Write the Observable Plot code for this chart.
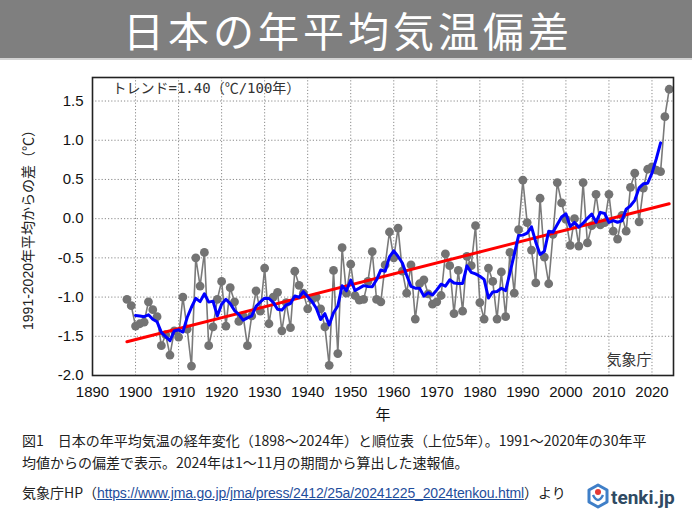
<!DOCTYPE html>
<html><head><meta charset="utf-8">
<script src="https://cdn.jsdelivr.net/npm/d3@7"></script>
<script src="https://cdn.jsdelivr.net/npm/@observablehq/plot@0.6"></script>
<style>
body{margin:0;width:692px;height:519px;position:relative;background:#fff;overflow:hidden;font-family:"Noto Sans CJK JP",sans-serif}
#banner{position:absolute;left:0;top:0;width:692px;height:58px;background:#7f7f7f;border-bottom:2px solid #d3d3d3;display:flex;align-items:center;justify-content:center}
#title{color:#fff;font-size:41px;letter-spacing:4px;line-height:1;white-space:nowrap;padding-left:4px}
#chart{position:absolute;left:0;top:60px}
.cap{position:absolute;left:22px;font-size:14px;color:#222;white-space:nowrap;line-height:18px}
.url{color:#1f4e9c;text-decoration:underline;font-family:"Liberation Sans",Arial,sans-serif;font-size:14px;letter-spacing:-0.15px}
#logo{position:absolute;left:586px;top:483px}
</style></head>
<body>
<div id="banner"><span id="title"></span></div>
<div id="chart"></div>
<div class="cap" id="cap1" style="top:431px"></div>
<div class="cap" id="cap2" style="top:453px"></div>
<div class="cap" id="cap3" style="top:483px"></div>
<svg id="logo" width="90" height="28" viewBox="0 0 90 28">
  <path d="M12 2 L21 7 L21 19 L12 24 L3 19 L3 7 Z" fill="#fff" stroke="#3f7fc8" stroke-width="3" stroke-linejoin="round"/>
  <path d="M7 12 Q12 22 17 12" fill="none" stroke="#3f7fc8" stroke-width="2.5"/>
  <circle cx="12" cy="9" r="3" fill="#e53935"/>
  <text x="25" y="21" font-family="Roboto, 'Liberation Sans', sans-serif" font-weight="bold" font-size="19" fill="#2f4a63">tenki.jp</text>
</svg>
<script>
const titleText = "日本の年平均気温偏差";
const caption1 = "図1　日本の年平均気温の経年変化（1898～2024年）と順位表（上位5年）。1991～2020年の30年平";
const caption2 = "均値からの偏差で表示。2024年は1～11月の期間から算出した速報値。";
const sourcePrefix = "気象庁HP（";
const sourceUrl = "https://www.jma.go.jp/jma/press/2412/25a/20241225_2024tenkou.html";
const sourceSuffix = "）より";
const trendLabel = "トレンド=1.40（℃/100年）";
const agencyLabel = "気象庁";
const yLabel = "1991-2020年平均からの差（℃）";
const xLabel = "年";

const startYear = 1898;
const anomalies = [
  -1.03, -1.11,                                                  // 1898-1899
  -1.37, -1.34, -1.32, -1.06, -1.16, -1.25, -1.62, -1.48, -1.74, -1.43, // 1900s
  -1.51, -1.00, -1.41, -1.88, -0.50, -0.86, -0.43, -1.62, -1.38, -1.03, // 1910s
  -0.80, -1.37, -0.88, -1.06, -1.31, -1.24, -1.62, -1.24, -0.92, -1.18, // 1920s
  -0.63, -1.34, -1.00, -0.94, -1.43, -1.07, -1.39, -0.67, -0.85, -0.95, // 1930s
  -1.15, -1.03, -1.00, -1.15, -1.38, -1.87, -0.66, -1.72, -0.37, -0.95, // 1940s
  -0.58, -0.98, -1.04, -1.03, -0.80, -0.42, -1.03, -1.06, -0.59, -0.17, // 1950s
  -0.50, -0.12, -0.67, -0.95, -0.59, -1.28, -0.83, -0.78, -0.96, -1.09, // 1960s
  -1.06, -0.98, -0.45, -0.60, -1.21, -0.66, -1.18, -0.48, -0.60, -0.09, // 1970s
  -1.07, -1.28, -0.63, -0.80, -1.28, -0.68, -1.25, -0.43, -0.95, -0.14, // 1980s
   0.49, -0.05, -0.40, -0.82,  0.26, -0.49, -0.83, -0.20,  0.46,  0.20, // 1990s
  -0.01, -0.34,  0.00, -0.35,  0.46, -0.31, -0.09,  0.31, -0.08, -0.05, // 2000s
   0.31, -0.16, -0.26,  0.04, -0.16,  0.40,  0.58, -0.04,  0.39,  0.63, // 2010s
   0.66,  0.62,  0.60,  1.30,  1.65                                    // 2020-2024
];
const trendYears = [1898, 2024];
const trendValues = [-1.57, 0.19];
const xTicks = [1890, 1900, 1910, 1920, 1930, 1940, 1950, 1960, 1970, 1980, 1990, 2000, 2010, 2020];
const yTicks = [-2.0, -1.5, -1.0, -0.5, 0.0, 0.5, 1.0, 1.5];
const xDomain = [1890, 2025];
const yDomain = [-2.0, 1.8];

document.getElementById("title").textContent = titleText;
document.getElementById("cap1").textContent = caption1;
document.getElementById("cap2").textContent = caption2;
const c3 = document.getElementById("cap3");
c3.append(sourcePrefix);
const u = document.createElement("span"); u.className = "url"; u.textContent = sourceUrl; c3.append(u);
c3.append(sourceSuffix);

const data = anomalies.map((v, i) => ({year: startYear + i, value: v}));
const trend = trendYears.map((y, i) => ({year: y, value: trendValues[i]}));

const latin = "'Liberation Sans', Arial, 'Noto Sans CJK JP', sans-serif";
const grid = {stroke: "#8a8a8a", strokeOpacity: 1, strokeWidth: 1, strokeDasharray: "1.2,2"};

const chart = Plot.plot({
  width: 692, height: 360,
  marginLeft: 92, marginRight: 19, marginTop: 17, marginBottom: 45,
  style: {fontFamily: latin, fontSize: "15px", color: "#111", background: "transparent", overflow: "visible"},
  x: {domain: xDomain},
  y: {domain: yDomain},
  marks: [
    Plot.gridX(xTicks.filter(d => d > xDomain[0]), grid),
    Plot.gridY(yTicks.filter(d => d > yDomain[0]), grid),
    Plot.axisX(xTicks, {tickSize: 0, tickPadding: 11, tickFormat: d => String(d), label: null, fontSize: 15}),
    Plot.axisY(yTicks, {tickSize: 0, tickPadding: 9, tickFormat: d => d.toFixed(1), label: null, fontSize: 15}),
    Plot.text([xLabel], {frameAnchor: "bottom", dy: 44, lineAnchor: "bottom", fontSize: 15, fontFamily: "'Noto Sans CJK JP', sans-serif", fill: "#111"}),
    Plot.text([yLabel], {frameAnchor: "left", dx: -64, rotate: -90, textAnchor: "middle", lineAnchor: "middle", fontSize: 14, fontFamily: latin, fill: "#222"}),
    Plot.line(data, {x: "year", y: "value", stroke: "#7a7a7a", strokeWidth: 1.6}),
    Plot.dot(data, {x: "year", y: "value", r: 4.4, fill: "#737373", stroke: "none"}),
    Plot.line(trend, {x: "year", y: "value", stroke: "#ff0000", strokeWidth: 3}),
    Plot.line(data, Plot.windowY({k: 5, anchor: "middle", strict: true}, {x: "year", y: "value", stroke: "#0000ff", strokeWidth: 3})),
    Plot.text([trendLabel], {frameAnchor: "top-left", dx: 20, dy: 6, fontSize: 14, fontFamily: "'DejaVu Sans Mono','Noto Sans CJK JP', monospace", fill: "#333"}),
    Plot.text([agencyLabel], {frameAnchor: "bottom-right", dx: -22, dy: -11, fontSize: 15, fontFamily: "'Noto Sans CJK JP', sans-serif", fill: "#333"}),
    Plot.frame({stroke: "#222", strokeWidth: 1.6})
  ]
});
document.getElementById("chart").append(chart);
</script>
</body></html>
